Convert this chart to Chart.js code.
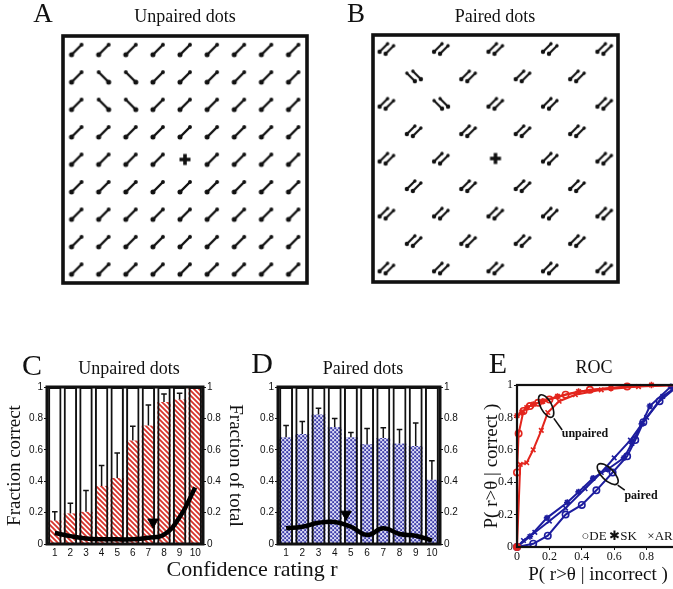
<!DOCTYPE html>
<html>
<head>
<meta charset="utf-8">
<title>Texture discrimination and confidence</title>
<script src="https://cdn.jsdelivr.net/npm/chart.js@4.4.1/dist/chart.umd.min.js"></script>
<style>
  html, body { margin: 0; padding: 0; background: #fff; overflow: hidden; }
  body { position: relative; width: 673px; height: 589px; }
  canvas { position: absolute; }
  .lbl { position: absolute; transform: translate(-50%, -50%); font-family: "Liberation Serif", "Times New Roman", serif;
         color: #111; white-space: nowrap; line-height: 1; }
</style>
</head>
<body>
<canvas id="panelA" width="340" height="300" style="left:0;top:0"></canvas>
<canvas id="panelB" width="333" height="300" style="left:340px;top:0"></canvas>
<canvas id="panelC" width="250" height="215" style="left:0;top:355px"></canvas>
<canvas id="panelD" width="215" height="215" style="left:250px;top:355px"></canvas>
<canvas id="panelE" width="208" height="235" style="left:477px;top:355px"></canvas>

<div class="lbl" style="left:43px;top:13px;font-size:27px">A</div>
<div class="lbl" style="left:185px;top:16px;font-size:18px">Unpaired dots</div>
<div class="lbl" style="left:356px;top:13px;font-size:27px">B</div>
<div class="lbl" style="left:495px;top:16px;font-size:18px">Paired dots</div>

<div class="lbl" style="left:32px;top:365px;font-size:30px">C</div>
<div class="lbl" style="left:129px;top:368px;font-size:18px">Unpaired dots</div>
<div class="lbl" style="left:262px;top:363px;font-size:30px">D</div>
<div class="lbl" style="left:363px;top:368px;font-size:18px">Paired dots</div>
<div class="lbl" style="left:498px;top:363px;font-size:30px">E</div>
<div class="lbl" style="left:594px;top:367px;font-size:18px">ROC</div>
<div class="lbl" style="left:252px;top:569px;font-size:22px">Confidence rating r</div>

<div class="lbl" style="left:585px;top:433px;font-size:12px;font-weight:bold">unpaired</div>
<div class="lbl" style="left:641px;top:495px;font-size:12px;font-weight:bold">paired</div>
<div class="lbl" style="left:594px;top:535px;font-size:13px">○DE</div>
<div class="lbl" style="left:623px;top:535px;font-size:13px">✱SK</div>
<div class="lbl" style="left:660px;top:535px;font-size:13px">×AR</div>

<script>
// ---- stimulus grids (panels A, B) ----
const gridRows = [1, 2, 3, 4, 5, 6, 7, 8, 9];
const gridCols = [1, 2, 3, 4, 5, 6, 7, 8, 9];
const unpairedOdd = [[2, 2], [3, 2], [2, 3], [3, 3]];   // [col, row]
const pairedColsOdd = [1, 3, 5, 7, 9];
const pairedColsEven = [2, 4, 6, 8];
const pairedOdd = [[2, 2], [3, 3]];
const fixation = [5, 5];

// ---- confidence rating histograms (panels C, D) ----
const ratings = [1, 2, 3, 4, 5, 6, 7, 8, 9, 10];
const fractionTicks = [0, 0.2, 0.4, 0.6, 0.8, 1];

const unpairedCorrect = [0.15, 0.195, 0.205, 0.37, 0.42, 0.66, 0.755, 0.905, 0.92, 1.0];
const unpairedErrTop  = [0.205, 0.26, 0.34, 0.5, 0.58, 0.75, 0.885, 0.955, 0.96, null];
const unpairedShare   = [0.07, 0.05, 0.035, 0.03, 0.03, 0.03, 0.04, 0.06, 0.17, 0.36];
const unpairedTheta   = [7.3, 0.14];

const pairedCorrect = [0.68, 0.70, 0.825, 0.745, 0.68, 0.635, 0.675, 0.64, 0.625, 0.41];
const pairedErrTop  = [0.755, 0.78, 0.865, 0.80, 0.71, 0.735, 0.74, 0.73, 0.77, 0.53];
const pairedShare   = [0.10, 0.11, 0.135, 0.14, 0.11, 0.057, 0.10, 0.064, 0.053, 0.022];
const pairedTheta   = [4.7, 0.19];

// ---- ROC (panel E), [P(r>θ|incorrect), P(r>θ|correct)] ----
const rocTicks = [0, 0.2, 0.4, 0.6, 0.8, 1];
const rocUnpairedDE = [[0, 0], [0, 0.46], [0.01, 0.70], [0.04, 0.84], [0.08, 0.87], [0.13, 0.89], [0.2, 0.91], [0.3, 0.94], [0.45, 0.97], [0.68, 0.99], [1, 1]];
const rocUnpairedSK = [[0, 0], [0, 0.81], [0.03, 0.83], [0.06, 0.86], [0.1, 0.88], [0.16, 0.9], [0.25, 0.93], [0.38, 0.96], [0.58, 0.98], [0.83, 1], [1, 1]];
const rocUnpairedAR = [[0, 0], [0.02, 0.51], [0.06, 0.52], [0.1, 0.6], [0.15, 0.72], [0.19, 0.83], [0.26, 0.9], [0.36, 0.94], [0.52, 0.97], [0.75, 0.99], [1, 1]];
const rocPairedDE = [[0, 0], [0.1, 0.02], [0.19, 0.07], [0.3, 0.2], [0.4, 0.26], [0.49, 0.35], [0.59, 0.46], [0.68, 0.56], [0.73, 0.66], [0.78, 0.77], [0.88, 0.9], [1, 1]];
const rocPairedSK = [[0, 0], [0.08, 0.065], [0.185, 0.18], [0.31, 0.275], [0.38, 0.34], [0.47, 0.425], [0.56, 0.48], [0.66, 0.55], [0.71, 0.64], [0.77, 0.76], [0.82, 0.87], [0.95, 0.99], [1, 1]];
const rocPairedAR = [[0, 0], [0.04, 0.04], [0.11, 0.09], [0.2, 0.16], [0.3, 0.24], [0.42, 0.36], [0.52, 0.46], [0.6, 0.55], [0.7, 0.66], [0.8, 0.8], [0.9, 0.93], [1, 1]];

Chart.defaults.color = '#111';
Chart.defaults.font.family = 'Liberation Sans';

const INK = '#111';
const RED = '#e3251d';
const BLUE = '#1d1d9e';

// box around the plotting area
const frame = {
  id: 'frame',
  afterDraw(chart, args, opts) {
    const { ctx, chartArea: a } = chart;
    ctx.save();
    ctx.strokeStyle = INK;
    ctx.lineWidth = opts.width || 2.5;
    ctx.strokeRect(a.left, a.top, a.right - a.left, a.bottom - a.top);
    ctx.restore();
  }
};

// --- glyphs for the texture stimuli ---
function makeGlyph(draw) {
  const c = document.createElement('canvas');
  c.width = 26; c.height = 26;
  const g = c.getContext('2d');
  g.translate(13, 13);
  g.strokeStyle = INK; g.fillStyle = INK; g.lineCap = 'round';
  draw(g);
  return c;
}
function dipole(g, x0, y0, x1, y1, w) {
  g.lineWidth = w;
  g.beginPath(); g.moveTo(x0, y0); g.lineTo(x1, y1); g.stroke();
  g.beginPath(); g.arc(x0, y0, w * 1.05, 0, Math.PI * 2); g.fill();
  g.beginPath(); g.arc(x1, y1, w * 0.8, 0, Math.PI * 2); g.fill();
}
const glyphSlash = makeGlyph(g => dipole(g, -5, 5, 5, -5, 2.4));
const glyphBack = makeGlyph(g => dipole(g, 5, 5, -5, -5, 2.4));
const glyphPair = makeGlyph(g => { dipole(g, -7, 3, 1, -5, 2.1); dipole(g, -1, 5, 7, -3, 2.1); });
const glyphPairBack = makeGlyph(g => { dipole(g, 1, 5, -7, -3, 2.1); dipole(g, 7, 3, -1, -5, 2.1); });
const glyphCross = makeGlyph(g => {
  g.lineCap = 'butt'; g.lineWidth = 3.6;
  g.beginPath(); g.moveTo(-5.5, 0); g.lineTo(5.5, 0); g.moveTo(0, -5.5); g.lineTo(0, 5.5); g.stroke();
});

const isIn = (list, c, r) => list.some(p => p[0] === c && p[1] === r);

function stimulusChart(id, pad, sets) {
  return new Chart(document.getElementById(id), {
    type: 'scatter',
    data: {
      datasets: sets.map(s => ({ data: s.points, pointStyle: s.glyph, pointRadius: 6, clip: false }))
    },
    options: {
      responsive: false, animation: false, events: [],
      layout: { padding: pad },
      plugins: { legend: { display: false }, tooltip: { enabled: false }, frame: { width: 3.6 } },
      scales: {
        x: { display: false, min: 0.5, max: 9.5 },
        y: { display: false, min: 0.5, max: 9.5, reverse: true }
      }
    },
    plugins: [frame]
  });
}

// panel A
const aUsual = [], aOdd = [];
gridRows.forEach(r => gridCols.forEach(c => {
  if (c === fixation[0] && r === fixation[1]) return;
  (isIn(unpairedOdd, c, r) ? aOdd : aUsual).push({ x: c, y: r });
}));
stimulusChart('panelA', { left: 63, top: 36, right: 33, bottom: 17 }, [
  { points: aUsual, glyph: glyphSlash },
  { points: aOdd, glyph: glyphBack },
  { points: [{ x: fixation[0], y: fixation[1] }], glyph: glyphCross }
]);

// panel B
const bUsual = [], bOdd = [];
gridRows.forEach(r => (r % 2 ? pairedColsOdd : pairedColsEven).forEach(c => {
  if (c === fixation[0] && r === fixation[1]) return;
  (isIn(pairedOdd, c, r) ? bOdd : bUsual).push({ x: c, y: r });
}));
stimulusChart('panelB', { left: 33, top: 35, right: 55, bottom: 18 }, [
  { points: bUsual, glyph: glyphPair },
  { points: bOdd, glyph: glyphPairBack },
  { points: [{ x: fixation[0], y: fixation[1] }], glyph: glyphCross }
]);

// --- fills for the bars ---
function hatchFill() {
  const c = document.createElement('canvas');
  c.width = 5; c.height = 5;
  const g = c.getContext('2d');
  g.fillStyle = '#fff'; g.fillRect(0, 0, 5, 5);
  g.strokeStyle = '#d8332b'; g.lineWidth = 1.8;
  g.beginPath();
  for (let k = -1; k <= 1; k++) { g.moveTo(k * 5 - 1, -1); g.lineTo(k * 5 + 6, 6); }
  g.stroke();
  return g.createPattern(c, 'repeat');
}
function dotFill() {
  const c = document.createElement('canvas');
  c.width = 4; c.height = 4;
  const g = c.getContext('2d');
  g.fillStyle = '#d9d9f4'; g.fillRect(0, 0, 4, 4);
  g.fillStyle = '#3a3aa8';
  g.fillRect(0.2, 0.2, 2, 2);
  g.fillRect(2.2, 2.2, 2, 2);
  return g.createPattern(c, 'repeat');
}

function errorBars(values, tops) {
  return {
    id: 'errorBars',
    afterDatasetsDraw(chart) {
      const { ctx, scales: { x, y } } = chart;
      ctx.save();
      ctx.strokeStyle = INK; ctx.lineWidth = 1.5;
      ratings.forEach((r, i) => {
        if (tops[i] == null || tops[i] <= values[i]) return;
        const px = x.getPixelForValue(r);
        const y0 = y.getPixelForValue(values[i]);
        const y1 = y.getPixelForValue(tops[i]);
        ctx.beginPath();
        ctx.moveTo(px, y0); ctx.lineTo(px, y1);
        ctx.moveTo(px - 2.8, y1); ctx.lineTo(px + 2.8, y1);
        ctx.stroke();
      });
      ctx.restore();
    }
  };
}

function ratingChart(id, cfg) {
  const tickFont = { family: 'Liberation Sans', size: 10 };
  const titleFont = { family: 'Liberation Serif', size: 19 };
  const fracTicks = s => { s.ticks = fractionTicks.map(v => ({ value: v })); };
  const yAxis = (pos, width, title) => ({
    position: pos, min: 0, max: 1,
    afterBuildTicks: fracTicks,
    afterFit: s => { s.width = width; },
    grid: { drawOnChartArea: false, tickLength: 3, color: INK },
    border: { display: false },
    ticks: { font: tickFont, color: INK, padding: 1, callback: v => String(v) },
    title: { display: !!title, text: title || '', font: titleFont, color: INK }
  });
  const barCommon = { grouped: false, barPercentage: 0.86, categoryPercentage: 1 };
  return new Chart(document.getElementById(id), {
    type: 'bar',
    data: {
      datasets: [
        { type: 'line', data: ratings.map((r, i) => ({ x: r, y: cfg.share[i] })), yAxisID: 'y2',
          borderColor: '#000', borderWidth: 4.5, pointRadius: 0, tension: 0.45, order: 0 },
        { type: 'scatter', data: [{ x: cfg.theta[0], y: cfg.theta[1] }], yAxisID: 'y2',
          pointStyle: 'triangle', rotation: 180, pointRadius: 6, backgroundColor: '#000', borderColor: '#000', order: 0 },
        Object.assign({ data: ratings.map(r => ({ x: r, y: 1 })), backgroundColor: 'rgba(0,0,0,0)',
          borderColor: INK, borderWidth: 2, order: 1 }, barCommon),
        Object.assign({ data: ratings.map((r, i) => ({ x: r, y: cfg.correct[i] })), backgroundColor: cfg.fill,
          borderWidth: 0, order: 2 }, barCommon)
      ]
    },
    options: {
      responsive: false, animation: false, events: [],
      layout: { padding: { top: 32, left: 0, right: 0, bottom: 0 } },
      plugins: { legend: { display: false }, tooltip: { enabled: false }, frame: { width: 3 } },
      scales: {
        x: {
          type: 'linear', min: 0.5, max: 10.5, offset: false,
          afterBuildTicks: s => { s.ticks = ratings.map(v => ({ value: v })); },
          afterFit: s => { s.height = 26; },
          grid: { display: false, drawTicks: false, offset: false }, border: { display: false },
          ticks: { font: tickFont, color: INK, padding: 3, maxRotation: 0, autoSkip: false }
        },
        y: yAxis('left', cfg.leftW, cfg.leftTitle),
        y2: yAxis('right', cfg.rightW, cfg.rightTitle)
      }
    },
    plugins: [frame, errorBars(cfg.correct, cfg.errTop)]
  });
}

ratingChart('panelC', {
  correct: unpairedCorrect, errTop: unpairedErrTop, share: unpairedShare, theta: unpairedTheta,
  fill: hatchFill(), leftW: 47, rightW: 47, leftTitle: 'Fraction correct', rightTitle: 'Fraction of total'
});
ratingChart('panelD', {
  correct: pairedCorrect, errTop: pairedErrTop, share: pairedShare, theta: pairedTheta,
  fill: dotFill(), leftW: 28, rightW: 25
});

// --- ROC panel ---
const rocRings = [
  { x: 0.18, y: 0.87, rx: 12.5, ry: 5.5, angle: 1.08, tail: [[7.7, 12.3], [16, 24]] },
  { x: 0.56, y: 0.45, rx: 13.5, ry: 6, angle: 0.785, tail: [[10, 11], [17, 16]] }
];
const rocNotes = {
  id: 'rocNotes',
  afterDatasetsDraw(chart) {
    const { ctx, scales: { x, y } } = chart;
    ctx.save();
    ctx.strokeStyle = INK; ctx.lineWidth = 1.6;
    rocRings.forEach(r => {
      const cx = x.getPixelForValue(r.x), cy = y.getPixelForValue(r.y);
      ctx.beginPath(); ctx.ellipse(cx, cy, r.rx, r.ry, r.angle, 0, Math.PI * 2); ctx.stroke();
      ctx.beginPath();
      ctx.moveTo(cx + r.tail[0][0], cy + r.tail[0][1]);
      ctx.lineTo(cx + r.tail[1][0], cy + r.tail[1][1]);
      ctx.stroke();
    });
    ctx.restore();
  }
};

const rocSets = [
  { pts: rocUnpairedDE, color: RED, style: 'circle' },
  { pts: rocUnpairedSK, color: RED, style: 'star' },
  { pts: rocUnpairedAR, color: RED, style: 'crossRot' },
  { pts: rocPairedDE, color: BLUE, style: 'circle' },
  { pts: rocPairedSK, color: BLUE, style: 'star' },
  { pts: rocPairedAR, color: BLUE, style: 'crossRot' }
];
const rocTickSet = s => { s.ticks = rocTicks.map(v => ({ value: v })); };
const serifTick = { family: 'Liberation Serif', size: 12 };
const serifTitle = { family: 'Liberation Serif', size: 19 };

new Chart(document.getElementById('panelE'), {
  type: 'scatter',
  data: {
    datasets: rocSets.map(s => ({
      data: s.pts.map(p => ({ x: p[0], y: p[1] })),
      showLine: true, borderColor: s.color, borderWidth: 2,
      pointStyle: s.style, pointRadius: 3.2, pointBorderWidth: 1.6,
      pointBorderColor: s.color, pointBackgroundColor: 'rgba(255,255,255,0)', clip: false
    }))
  },
  options: {
    responsive: false, animation: false, events: [],
    layout: { padding: { top: 30, right: 6, left: 0, bottom: 0 } },
    plugins: { legend: { display: false }, tooltip: { enabled: false }, frame: { width: 2.2 } },
    scales: {
      x: {
        min: 0, max: 1, afterBuildTicks: rocTickSet,
        afterFit: s => { s.height = 43; },
        grid: { drawOnChartArea: false, tickLength: 3, color: INK }, border: { display: false },
        ticks: { font: serifTick, color: INK, padding: 0, maxRotation: 0, callback: v => String(v) },
        title: { display: true, text: 'P( r>θ | incorrect )', font: serifTitle, color: INK }
      },
      y: {
        min: 0, max: 1, afterBuildTicks: rocTickSet,
        afterFit: s => { s.width = 40; },
        grid: { drawOnChartArea: false, tickLength: 3, color: INK }, border: { display: false },
        ticks: { font: serifTick, color: INK, padding: 1, callback: v => String(v) },
        title: { display: true, text: 'P( r>θ | correct )', font: serifTitle, color: INK }
      }
    }
  },
  plugins: [frame, rocNotes]
});
</script>
</body>
</html>
